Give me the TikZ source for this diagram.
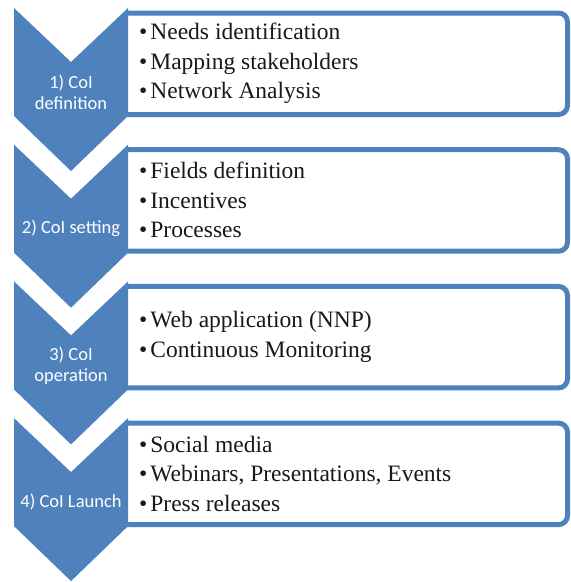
\documentclass[tikz,border=0pt]{standalone}
\usepackage{fontspec}
\setmainfont{Liberation Serif}
\newfontfamily\chevfont{Carlito}
\definecolor{accent}{HTML}{4F81BD}
\tikzset{
  listbox/.style={draw=accent, line width=5pt},
  boxfill/.style={fill=white, draw=none},
  chevshape/.style={fill=accent, draw=none},
  chevlabel/.style={text=white, align=center, font=\chevfont\fontsize{18.5pt}{21pt}\selectfont, inner sep=0pt},
  itemtext/.style={anchor=west, align=left, font=\fontsize{23.5pt}{29.5pt}\selectfont, inner sep=0pt, text=black!90}
}
\newcommand{\bitem}{\textbullet\hspace{3pt}}
\begin{document}
\begin{tikzpicture}[x=1pt,y=-1pt]
\useasboundingbox (0,0) rectangle (571,582);
\foreach \i/\lab/\items in {
  0/{1) CoI\\definition}/{\bitem Needs identification\\\bitem Mapping stakeholders\\\bitem Network Analysis},
  1/{2) CoI setting}/{\bitem Fields definition\\\bitem Incentives\\\bitem Processes},
  2/{3) CoI\\operation}/{\bitem Web application (NNP)\\\bitem Continuous Monitoring},
  3/{4) CoI Launch}/{\bitem Social media\\\bitem Webinars, Presentations, Events\\\bitem Press releases}}{
  \pgfmathsetmacro\t{8+136.7*\i}
  \path[boxfill] (126,\t+5) rectangle (567.5,\t+106.5);
  \draw[listbox] (126,\t+5) [rounded corners=9pt] -- (567.5,\t+5) -- (567.5,\t+106.5) -- (126,\t+106.5);
  \path[chevshape] (14,\t) -- (71,\t+54) -- (128,\t) -- (128,\t+108) -- (71,\t+163) -- (14,\t+108) -- cycle;
  \node[chevlabel] (lab\i) at (71,\t+84) {\lab};
  \node[itemtext] (txt\i) at (139,\t+55.5) {\items};
}
\end{tikzpicture}
\end{document}
